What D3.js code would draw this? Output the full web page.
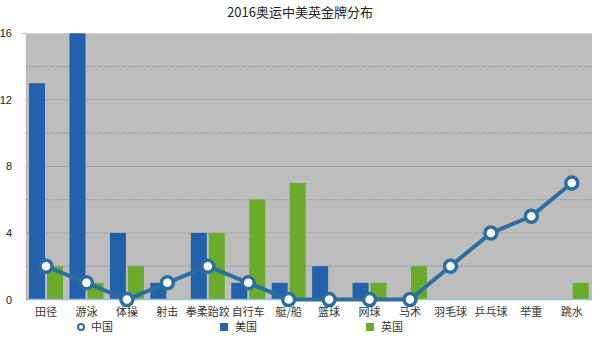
<!DOCTYPE html>
<html><head><meta charset="utf-8">
<script src="https://cdn.jsdelivr.net/npm/d3@7"></script>
<style>body{margin:0;background:#fff;}svg{display:block;font-family:"Noto Sans CJK SC","Noto Sans",sans-serif;}</style>
</head><body><svg id="c" width="600" height="341"></svg>
<script>
const categories = ["田径","游泳","体操","射击","拳柔跆跤","自行车","艇/船","篮球","网球","马术","羽毛球","乒乓球","举重","跳水"];
const usa   = [13,16,4,1,4,1,1,2,1,0,0,0,0,0];
const uk    = [2,1,2,0,4,6,7,0,1,2,0,0,0,1];
const china = [2,1,0,1,2,1,0,0,0,0,2,4,5,7];
const yTicks = [0,4,8,12,16];
const minorTicks = [2,6,10,14];
const seriesNames = ["中国","美国","英国"];
const colors = {china:"#2b6e9f", usa:"#2461ab", uk:"#6aab2b"};

const svg = d3.select("#c");
const L = 25.8, R = 592, T = 33.3, B = 299.5;
const x = d3.scaleBand().domain(categories).range([L,R]);
const y = d3.scaleLinear().domain([0,16]).range([B,T]);

svg.append("text").attr("x",300).attr("y",17).attr("text-anchor","middle")
  .attr("font-size",13).attr("fill","#222").text("2016奥运中美英金牌分布");

svg.append("rect").attr("x",L).attr("y",T).attr("width",R-L).attr("height",B-T).attr("fill","#bdbdbd");

svg.selectAll(".gmaj").data(yTicks.filter(d=>d>0&&d<16)).join("line")
  .attr("x1",L).attr("x2",R).attr("y1",d=>y(d)).attr("y2",d=>y(d))
  .attr("stroke","#a4a4a4").attr("stroke-width",1);
svg.selectAll(".gmin").data(minorTicks).join("line")
  .attr("x1",L).attr("x2",R).attr("y1",d=>y(d)).attr("y2",d=>y(d))
  .attr("stroke","#888").attr("stroke-width",1).attr("stroke-dasharray","1.5,1.5");

const bw = 16, gap = 1;
svg.selectAll(".us").data(usa).join("rect")
  .attr("x",(d,i)=>x(categories[i])+x.bandwidth()/2-gap-bw)
  .attr("y",d=>y(d)).attr("width",bw).attr("height",d=>B-y(d)).attr("fill",colors.usa);
svg.selectAll(".uk").data(uk).join("rect")
  .attr("x",(d,i)=>x(categories[i])+x.bandwidth()/2+gap)
  .attr("y",d=>y(d)).attr("width",bw).attr("height",d=>B-y(d)).attr("fill",colors.uk);

svg.append("line").attr("x1",L).attr("x2",R).attr("y1",B).attr("y2",B)
  .attr("stroke","#8fc3e0").attr("stroke-width",1.5);
svg.append("line").attr("x1",L-4).attr("x2",L).attr("y1",T).attr("y2",T).attr("stroke","#8fc3e0");

const cx = (d,i)=>x(categories[i])+x.bandwidth()/2;
svg.append("path").datum(china)
  .attr("d",d3.line().x(cx).y(d=>y(d)))
  .attr("fill","none").attr("stroke",colors.china).attr("stroke-width",4);
svg.selectAll(".pt").data(china).join("circle")
  .attr("cx",cx).attr("cy",d=>y(d)).attr("r",6)
  .attr("fill","#fff").attr("stroke",colors.china).attr("stroke-width",3.5);

svg.selectAll(".yl").data(yTicks).join("text")
  .attr("x",12).attr("y",d=>y(d)+4).attr("text-anchor","end")
  .attr("font-size",11).attr("fill","#222").attr("font-family","Liberation Sans, Arial, sans-serif").text(d=>d);

svg.selectAll(".xl").data(categories).join("text")
  .attr("x",(d,i)=>cx(0,i)).attr("y",316).attr("text-anchor","middle")
  .attr("font-size",11).attr("fill","#333").text(d=>d);

const lg = svg.append("g");
lg.append("circle").attr("cx",81).attr("cy",327).attr("r",3).attr("fill","#fff").attr("stroke",colors.china).attr("stroke-width",2);
lg.append("text").attr("x",91).attr("y",331).attr("font-size",11).attr("fill","#333").text(seriesNames[0]);
lg.append("rect").attr("x",220).attr("y",323).attr("width",8).attr("height",8).attr("fill",colors.usa);
lg.append("text").attr("x",235).attr("y",331).attr("font-size",11).attr("fill","#333").text(seriesNames[1]);
lg.append("rect").attr("x",366).attr("y",323).attr("width",8).attr("height",8).attr("fill",colors.uk);
lg.append("text").attr("x",381).attr("y",331).attr("font-size",11).attr("fill","#333").text(seriesNames[2]);
</script></body></html>
